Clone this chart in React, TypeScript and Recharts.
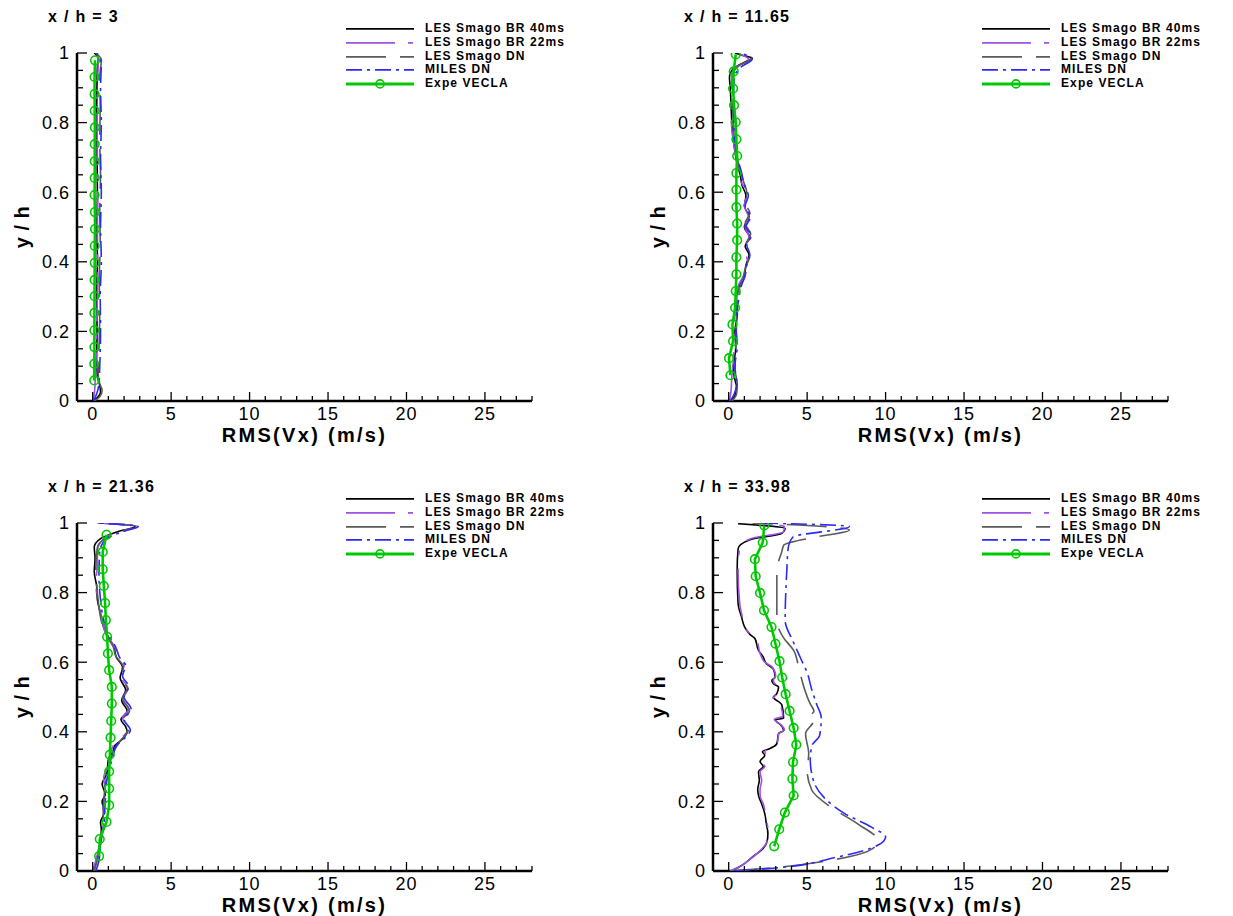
import { Label, Legend, Scatter, ScatterChart, XAxis, YAxis } from "recharts";

type Pt = [number, number];

const FONT = "'Liberation Sans', Arial, Helvetica, sans-serif";

// axis ticks (minor ticks everywhere, labels only on the majors)
const xTicks = [0, 1, 2, 3, 4, 5, 6, 7, 8, 9, 10, 11, 12, 13, 14, 15, 16, 17, 18, 19, 20, 21, 22, 23, 24, 25, 26, 27, 28];
const xMajor = [0, 5, 10, 15, 20, 25];
const yTicks = [0, 0.05, 0.1, 0.15, 0.2, 0.25, 0.3, 0.35, 0.4, 0.45, 0.5, 0.55, 0.6, 0.65, 0.7, 0.75, 0.8, 0.85, 0.9, 0.95, 1];
const yMajor = [0, 0.2, 0.4, 0.6, 0.8, 1];

const seriesNames = ["LES Smago BR 40ms", "LES Smago BR 22ms", "LES Smago DN", "MILES DN", "Expe VECLA"];
const stations = ["x / h = 3", "x / h = 11.65", "x / h = 21.36", "x / h = 33.98"];

// x / h = 3
const p1Les40: Pt[] = [[0, 0], [0.3, 0.01], [0.5, 0.025], [0.45, 0.045], [0.3, 0.07], [0.25, 0.12], [0.28, 0.2], [0.25, 0.3], [0.3, 0.4], [0.27, 0.5], [0.3, 0.6], [0.28, 0.7], [0.25, 0.8], [0.27, 0.9], [0.3, 0.96], [0.35, 0.985], [0.1, 1]];
const p1Les22: Pt[] = [[0, 0], [0.1, 0.02], [0.15, 0.05], [0.2, 0.1], [0.25, 0.2], [0.3, 0.3], [0.32, 0.4], [0.3, 0.5], [0.33, 0.6], [0.3, 0.7], [0.28, 0.8], [0.3, 0.9], [0.35, 0.97], [0.3, 0.99]];
const p1Dn: Pt[] = [[0.1, 0], [0.45, 0.012], [0.6, 0.03], [0.45, 0.05], [0.35, 0.08], [0.4, 0.15], [0.45, 0.25], [0.42, 0.35], [0.48, 0.45], [0.45, 0.55], [0.5, 0.65], [0.45, 0.75], [0.48, 0.85], [0.45, 0.93], [0.55, 0.98], [0.2, 1]];
const p1Miles: Pt[] = [[0.05, 0], [0.25, 0.02], [0.4, 0.05], [0.45, 0.1], [0.5, 0.2], [0.48, 0.3], [0.55, 0.4], [0.5, 0.5], [0.55, 0.6], [0.5, 0.7], [0.55, 0.8], [0.5, 0.9], [0.55, 0.97], [0.25, 1]];
const p1Expe: Pt[] = [[0.15, 0.979], [0.12, 0.931], [0.12, 0.882], [0.13, 0.834], [0.14, 0.786], [0.13, 0.738], [0.13, 0.689], [0.13, 0.641], [0.12, 0.592], [0.14, 0.543], [0.15, 0.494], [0.13, 0.446], [0.13, 0.397], [0.12, 0.348], [0.12, 0.301], [0.11, 0.253], [0.11, 0.203], [0.11, 0.155], [0.1, 0.107], [0.1, 0.059]];

// x / h = 11.65
const p2Les40: Pt[] = [[0.1, 0], [0.4, 0.015], [0.5, 0.04], [0.35, 0.07], [0.3, 0.1], [0.45, 0.15], [0.4, 0.2], [0.55, 0.25], [0.5, 0.3], [0.75, 0.34], [1.0, 0.36], [1.1, 0.39], [1.3, 0.42], [1.05, 0.445], [1.35, 0.47], [1.0, 0.5], [1.3, 0.53], [1.0, 0.56], [1.1, 0.59], [0.85, 0.62], [0.75, 0.645], [0.5, 0.69], [0.3, 0.75], [0.2, 0.8], [0.15, 0.85], [0.1, 0.9], [0.05, 0.93], [0.3, 0.955], [1.2, 0.978], [1.5, 0.985], [0.9, 0.993], [0.4, 1]];
const p2Les22: Pt[] = [[0.05, 0], [0.15, 0.03], [0.2, 0.07], [0.3, 0.12], [0.35, 0.2], [0.45, 0.28], [0.6, 0.33], [0.95, 0.36], [1.2, 0.4], [1.0, 0.44], [1.3, 0.47], [1.05, 0.5], [1.25, 0.53], [1.0, 0.56], [1.15, 0.595], [0.8, 0.63], [0.6, 0.67], [0.4, 0.72], [0.2, 0.78], [0.15, 0.85], [0.2, 0.9], [0.2, 0.94], [0.5, 0.96], [1.3, 0.98], [0.5, 1]];
const p2Dn: Pt[] = [[0.2, 0], [0.5, 0.02], [0.55, 0.05], [0.4, 0.09], [0.45, 0.15], [0.5, 0.22], [0.55, 0.3], [0.9, 0.35], [1.05, 0.38], [1.35, 0.42], [1.1, 0.45], [1.4, 0.48], [1.05, 0.51], [1.35, 0.54], [1.05, 0.57], [1.15, 0.6], [0.95, 0.63], [0.7, 0.67], [0.45, 0.72], [0.3, 0.8], [0.25, 0.88], [0.3, 0.94], [0.7, 0.965], [1.45, 0.984], [0.6, 1]];
const p2Miles: Pt[] = [[0.1, 0], [0.35, 0.02], [0.5, 0.05], [0.4, 0.1], [0.55, 0.16], [0.45, 0.22], [0.6, 0.28], [0.8, 0.33], [1.05, 0.36], [1.15, 0.39], [1.35, 0.42], [1.15, 0.45], [1.45, 0.475], [1.1, 0.5], [1.4, 0.53], [1.05, 0.56], [1.25, 0.59], [1.0, 0.62], [0.8, 0.66], [0.55, 0.7], [0.35, 0.78], [0.3, 0.86], [0.35, 0.93], [0.8, 0.96], [1.5, 0.983], [0.7, 1]];
const p2Expe: Pt[] = [[0.45, 0.996], [0.32, 0.947], [0.28, 0.898], [0.34, 0.85], [0.45, 0.801], [0.49, 0.752], [0.54, 0.704], [0.49, 0.655], [0.49, 0.607], [0.49, 0.557], [0.54, 0.51], [0.54, 0.462], [0.49, 0.413], [0.49, 0.364], [0.45, 0.316], [0.41, 0.268], [0.24, 0.22], [0.28, 0.172], [0.02, 0.123], [0.11, 0.074]];

// x / h = 21.36
const p3Les40: Pt[] = [[0.05, 0], [0.3, 0.04], [0.5, 0.08], [0.55, 0.12], [0.5, 0.14], [0.75, 0.17], [0.6, 0.2], [0.8, 0.22], [0.6, 0.25], [0.9, 0.28], [1.0, 0.32], [1.3, 0.345], [1.4, 0.36], [1.8, 0.375], [2.2, 0.4], [2.1, 0.415], [1.8, 0.435], [2.2, 0.46], [1.85, 0.49], [2.1, 0.52], [1.75, 0.555], [1.9, 0.585], [1.5, 0.615], [1.35, 0.645], [0.9, 0.68], [0.7, 0.7], [0.5, 0.74], [0.3, 0.78], [0.25, 0.82], [0.1, 0.86], [0.15, 0.9], [0.1, 0.93], [0.5, 0.955], [1.6, 0.975], [2.7, 0.99], [0.4, 1]];
const p3Les22: Pt[] = [[0, 0], [0.2, 0.03], [0.4, 0.07], [0.6, 0.11], [0.7, 0.15], [0.65, 0.19], [0.8, 0.23], [0.7, 0.27], [1.0, 0.3], [1.1, 0.33], [1.2, 0.35], [1.5, 0.37], [2.0, 0.39], [2.3, 0.41], [1.9, 0.44], [2.3, 0.465], [1.95, 0.495], [2.25, 0.525], [1.85, 0.555], [2.0, 0.59], [1.6, 0.62], [1.4, 0.645], [0.9, 0.675], [0.6, 0.72], [0.35, 0.77], [0.2, 0.83], [0.3, 0.88], [0.3, 0.92], [0.7, 0.955], [1.8, 0.977], [2.8, 0.99], [0.5, 1]];
const p3Dn: Pt[] = [[0.1, 0], [0.35, 0.04], [0.55, 0.09], [0.65, 0.14], [0.7, 0.2], [0.85, 0.26], [1.1, 0.31], [1.3, 0.34], [1.7, 0.37], [2.3, 0.41], [1.9, 0.435], [2.35, 0.46], [1.9, 0.495], [2.2, 0.525], [1.8, 0.555], [1.95, 0.585], [1.45, 0.62], [1.3, 0.645], [0.8, 0.68], [0.5, 0.73], [0.3, 0.8], [0.2, 0.87], [0.3, 0.93], [0.8, 0.955], [2.0, 0.978], [2.9, 0.99], [0.3, 1]];
const p3Miles: Pt[] = [[0.2, 0], [0.4, 0.03], [0.5, 0.08], [0.7, 0.13], [0.8, 0.2], [0.9, 0.26], [1.1, 0.3], [1.3, 0.33], [1.5, 0.36], [2.0, 0.38], [2.4, 0.405], [2.0, 0.435], [2.45, 0.465], [2.0, 0.5], [2.3, 0.53], [1.9, 0.56], [2.1, 0.59], [1.7, 0.615], [1.5, 0.64], [1.0, 0.68], [0.7, 0.72], [0.5, 0.78], [0.4, 0.85], [0.45, 0.92], [0.9, 0.955], [2.1, 0.978], [2.9, 0.99], [0.4, 1]];
const p3Expe: Pt[] = [[0.88, 0.966], [0.64, 0.917], [0.64, 0.867], [0.71, 0.819], [0.79, 0.77], [0.84, 0.721], [0.92, 0.673], [0.97, 0.625], [1.05, 0.577], [1.22, 0.529], [1.22, 0.481], [1.18, 0.431], [1.14, 0.383], [1.09, 0.334], [1.05, 0.286], [1.05, 0.237], [1.05, 0.189], [0.88, 0.141], [0.45, 0.092], [0.41, 0.043]];

// x / h = 33.98
const p4Les40: Pt[] = [[0.15, 0], [0.8, 0.015], [1.5, 0.04], [2.2, 0.065], [2.45, 0.085], [2.5, 0.107], [2.4, 0.136], [2.3, 0.165], [2.1, 0.193], [1.9, 0.217], [1.85, 0.235], [1.95, 0.26], [1.9, 0.285], [2.2, 0.3], [2.0, 0.315], [2.3, 0.332], [2.15, 0.343], [2.64, 0.352], [3.07, 0.366], [3.18, 0.395], [3.5, 0.404], [3.3, 0.42], [2.96, 0.434], [3.5, 0.44], [3.39, 0.477], [2.85, 0.5], [3.07, 0.51], [3.18, 0.529], [2.85, 0.538], [2.75, 0.548], [2.96, 0.557], [2.85, 0.58], [2.4, 0.596], [2.2, 0.615], [1.9, 0.634], [1.67, 0.668], [1.35, 0.68], [1.03, 0.7], [0.82, 0.73], [0.6, 0.768], [0.54, 0.864], [0.6, 0.926], [1.35, 0.952], [3.39, 0.97], [3.6, 0.984], [0.6, 0.998]];
const p4Les22: Pt[] = [[0.1, 0], [0.7, 0.012], [1.4, 0.035], [2.0, 0.058], [2.4, 0.08], [2.55, 0.107], [2.45, 0.136], [2.35, 0.165], [2.2, 0.193], [2.0, 0.217], [2.0, 0.235], [2.1, 0.26], [2.0, 0.285], [2.3, 0.3], [2.1, 0.315], [2.4, 0.332], [2.3, 0.343], [2.7, 0.355], [3.1, 0.37], [3.2, 0.395], [3.55, 0.405], [3.35, 0.42], [2.9, 0.436], [3.45, 0.445], [3.3, 0.475], [2.8, 0.495], [3.1, 0.51], [3.2, 0.53], [2.9, 0.54], [2.85, 0.55], [3.0, 0.56], [2.8, 0.585], [2.3, 0.6], [2.0, 0.625], [1.8, 0.66], [1.5, 0.675], [1.1, 0.695], [0.9, 0.725], [0.7, 0.77], [0.6, 0.86], [0.7, 0.93], [1.4, 0.955], [3.5, 0.975], [3.55, 0.99], [1.5, 1]];
const p4Dn: Pt[] = [[0.06, 0], [2.2, 0.007], [6.5, 0.031], [9.3, 0.069], [9.5, 0.088], [8.2, 0.136], [6.5, 0.184], [5.3, 0.232], [5.0, 0.289], [5.1, 0.337], [4.9, 0.395], [5.43, 0.433], [5.1, 0.44], [5.43, 0.46], [5.2, 0.48], [4.79, 0.529], [4.46, 0.586], [4.14, 0.634], [3.5, 0.67], [3.07, 0.72], [3.07, 0.864], [3.4, 0.92], [3.5, 0.936], [5.2, 0.957], [7.7, 0.98], [4.1, 0.995], [1.5, 1]];
const p4Miles: Pt[] = [[0.28, 0], [2.6, 0.007], [6.9, 0.04], [9.5, 0.074], [10.0, 0.098], [9.1, 0.126], [7.4, 0.165], [6.1, 0.21], [5.4, 0.26], [5.2, 0.32], [5.3, 0.36], [5.8, 0.39], [5.9, 0.44], [5.6, 0.48], [5.3, 0.52], [5.0, 0.57], [4.6, 0.61], [4.1, 0.66], [3.6, 0.72], [3.7, 0.86], [3.8, 0.93], [4.1, 0.96], [7.7, 0.99], [2.2, 1]];
const p4Expe: Pt[] = [[2.27, 0.993], [2.17, 0.944], [1.67, 0.896], [1.72, 0.847], [2.0, 0.799], [2.25, 0.749], [2.73, 0.701], [2.98, 0.653], [3.24, 0.603], [3.41, 0.556], [3.63, 0.508], [3.88, 0.46], [4.14, 0.411], [4.31, 0.363], [4.1, 0.313], [4.06, 0.265], [4.14, 0.217], [3.58, 0.168], [3.22, 0.12], [2.9, 0.071]];

const panels = [
  { title: stations[0], left: 0, top: 0, series: [p1Les40, p1Les22, p1Dn, p1Miles, p1Expe] },
  { title: stations[1], left: 636, top: 0, series: [p2Les40, p2Les22, p2Dn, p2Miles, p2Expe] },
  { title: stations[2], left: 0, top: 470, series: [p3Les40, p3Les22, p3Dn, p3Miles, p3Expe] },
  { title: stations[3], left: 636, top: 470, series: [p4Les40, p4Les22, p4Dn, p4Miles, p4Expe] },
];

const lineStyles = [
  { color: "#000000", width: 1.6, dash: undefined as string | undefined },
  { color: "#a052e6", width: 1.6, dash: "49 13 5 13" },
  { color: "#5a5a5a", width: 1.6, dash: "40 14" },
  { color: "#2b2bf5", width: 1.6, dash: "16 5 3 5" },
  { color: "#00c800", width: 2.6, dash: undefined as string | undefined },
];

const GREEN = "#00c800";

function XTick(props: any) {
  const { x, y, payload } = props;
  const major = xMajor.includes(payload.value);
  return (
    <g>
      <line x1={x} x2={x} y1={y} y2={y - (major ? 9 : 5)} stroke="#000" strokeWidth={1.3} />
      {major && (
        <text x={x} y={y + 13} dy="0.36em" textAnchor="middle" fontFamily={FONT} fontSize={18} letterSpacing={1} fill="#000">
          {payload.value}
        </text>
      )}
    </g>
  );
}

function YTick(props: any) {
  const { x, y, payload } = props;
  const major = yMajor.includes(payload.value);
  return (
    <g>
      <line x1={x} x2={x + (major ? 10 : 6)} y1={y} y2={y} stroke="#000" strokeWidth={1.3} />
      {major && (
        <text x={x - 7} y={y} dy="0.36em" textAnchor="end" fontFamily={FONT} fontSize={18} letterSpacing={1} fill="#000">
          {payload.value}
        </text>
      )}
    </g>
  );
}

function LegendBox() {
  return (
    <div style={{ fontFamily: FONT, fontWeight: "bold", fontSize: 12, letterSpacing: 1.1, color: "#000" }}>
      {seriesNames.map((name, i) => {
        const s = lineStyles[i];
        return (
          <div key={name} style={{ display: "flex", alignItems: "center", height: 13.8, lineHeight: "13.8px", whiteSpace: "nowrap" }}>
            <svg width={68} height={13.8} style={{ marginRight: 11, flex: "none" }}>
              <line x1={0} x2={68} y1={6.9} y2={6.9} stroke={s.color} strokeWidth={i === 4 ? 3 : 1.8} strokeDasharray={s.dash} />
              {i === 4 && <circle cx={34} cy={6.9} r={4} fill="none" stroke={GREEN} strokeWidth={1.6} />}
            </svg>
            <span>{name}</span>
          </div>
        );
      })}
    </div>
  );
}

function Panel({ title, left, top, series }: { title: string; left: number; top: number; series: Pt[][] }) {
  return (
    <div style={{ position: "absolute", left, top, width: 600, height: 460 }}>
      <div
        style={{
          position: "absolute", left: 48, top: 8, zIndex: 2, fontFamily: FONT, fontWeight: "bold",
          fontSize: 16, letterSpacing: 1.3, whiteSpace: "nowrap",
        }}
      >
        {title}
      </div>
      <ScatterChart width={600} height={460} margin={{ top: 53, right: 68, bottom: 9, left: 17 }}>
        <XAxis
          type="number"
          dataKey="x"
          domain={[-1, 28]}
          ticks={xTicks}
          interval={0}
          allowDataOverflow
          tickSize={0}
          tickMargin={0}
          tickLine={false}
          tick={<XTick />}
          axisLine={{ stroke: "#000", strokeWidth: 2.5 }}
          height={50}
        >
          <Label
            content={(p: any) => (
              <text
                x={p.viewBox.x + p.viewBox.width / 2}
                y={p.viewBox.y + 41}
                textAnchor="middle"
                fontFamily={FONT}
                fontWeight="bold"
                fontSize={20}
                letterSpacing={2.3}
              >
                RMS(Vx) (m/s)
              </text>
            )}
          />
        </XAxis>
        <YAxis
          type="number"
          dataKey="y"
          domain={[0, 1]}
          ticks={yTicks}
          interval={0}
          allowDataOverflow
          tickSize={0}
          tickMargin={0}
          tickLine={false}
          tick={<YTick />}
          axisLine={{ stroke: "#000", strokeWidth: 2.5 }}
          width={60}
        >
          <Label
            content={(p: any) => {
              const lx = p.viewBox.x + 12;
              const ly = p.viewBox.y + p.viewBox.height / 2;
              return (
                <text
                  x={lx}
                  y={ly}
                  transform={`rotate(-90, ${lx}, ${ly})`}
                  textAnchor="middle"
                  fontFamily={FONT}
                  fontWeight="bold"
                  fontSize={20}
                  letterSpacing={0.5}
                >
                  y / h
                </text>
              );
            }}
          />
        </YAxis>
        <Legend
          layout="vertical"
          align="center"
          verticalAlign="middle"
          content={() => <LegendBox />}
          wrapperStyle={{ left: 346, top: 22, width: 250, height: 70 }}
        />
        {series.map((pts, i) => {
          const s = lineStyles[i];
          const isExpe = i === 4;
          return (
            <Scatter
              key={seriesNames[i]}
              name={seriesNames[i]}
              data={pts.map(([x, y]) => ({ x, y }))}
              fill={s.color}
              line={{ stroke: s.color, strokeWidth: s.width, strokeDasharray: s.dash }}
              lineJointType={isExpe ? "linear" : "monotoneY"}
              shape={(p: any) =>
                isExpe ? (
                  <circle cx={p.cx} cy={p.cy} r={4.3} fill="none" stroke={GREEN} strokeWidth={1.6} />
                ) : (
                  <g />
                )
              }
              isAnimationActive={false}
            />
          );
        })}
      </ScatterChart>
    </div>
  );
}

export default function App() {
  return (
    <div style={{ position: "absolute", left: 0, top: 0, width: 1233, height: 916, background: "#fff" }}>
      {panels.map((p) => (
        <Panel key={p.title} title={p.title} left={p.left} top={p.top} series={p.series} />
      ))}
    </div>
  );
}
